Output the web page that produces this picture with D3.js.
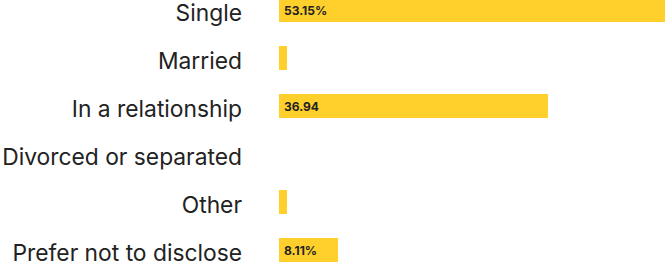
<!DOCTYPE html>
<html>
<head>
<meta charset="utf-8">
<script src="https://cdn.jsdelivr.net/npm/d3@7"></script>
<style>
  body { margin: 0; background: #fff; }
  svg { display: block; }
</style>
</head>
<body>
<svg id="chart" width="665" height="265"></svg>
<script>
// relationship status, percent of respondents
const categories = ["Single", "Married", "In a relationship", "Divorced or separated", "Other", "Prefer not to disclose"];
const values = [53.15, 1.1, 36.94, 0, 1.1, 8.11];
const valueLabels = ["53.15%", "", "36.94", "", "", "8.11%"];

const svg = d3.select("#chart");
const left = 279;

let y = d3.scaleBand()
    .domain(categories)
    .range([-14, 274])
    .paddingInner(0.5)
    .paddingOuter(0.25);

let x = d3.scaleLinear()
    .domain([0, 53.15])
    .range([0, 387]);

let rows = svg.selectAll(".row")
    .data(categories)
    .enter().append("g")
    .attr("class", "row")
    .attr("transform", d => "translate(0," + y(d) + ")");

rows.append("rect")
    .attr("x", left)
    .attr("y", 0)
    .attr("height", y.bandwidth())
    .attr("width", (d, i) => x(values[i]))
    .attr("fill", "#ffcf2c");

rows.append("text")
    .attr("x", 242)
    .attr("y", y.bandwidth() / 2 + 3)
    .attr("dy", "0.35em")
    .attr("text-anchor", "end")
    .attr("font-family", "Inter, 'Noto Sans', sans-serif")
    .attr("font-size", 22.8)
    .attr("fill", "#222")
    .text(d => d);

rows.append("text")
    .attr("x", left + 5)
    .attr("y", y.bandwidth() / 2 + 1)
    .attr("dy", "0.35em")
    .attr("font-family", "Inter, 'Noto Sans', sans-serif")
    .attr("font-size", 12)
    .attr("font-weight", 700)
    .attr("fill", "#222")
    .text((d, i) => valueLabels[i]);
</script>
</body>
</html>
